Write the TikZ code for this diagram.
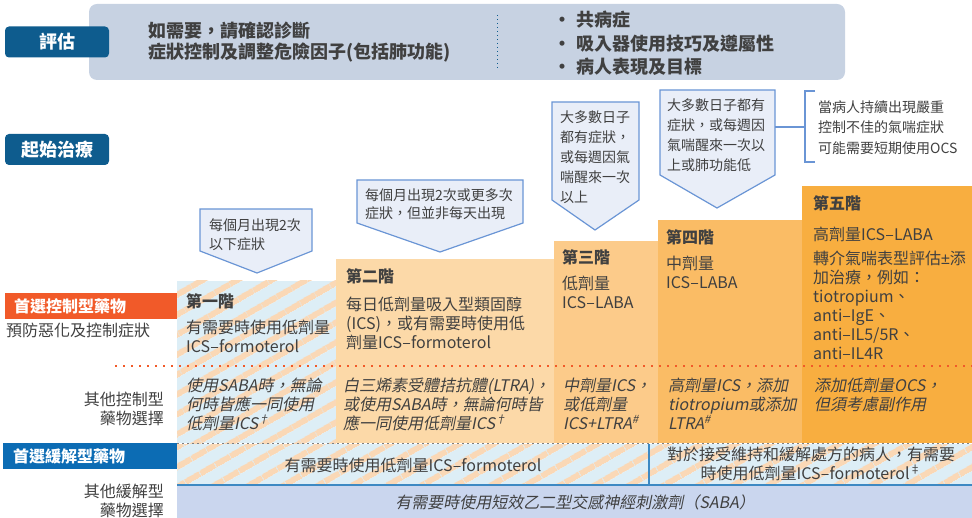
\documentclass[tikz,border=0pt]{standalone}
\usepackage{fontspec}
\setmainfont{Noto Sans CJK TC}[AutoFakeSlant=0.2]
\newfontfamily\latinfont{Liberation Sans}
\usetikzlibrary{patterns.meta}
\definecolor{headblue}{RGB}{14,92,142}
\definecolor{assessgray}{RGB}{199,210,226}
\definecolor{ctrlorange}{RGB}{241,90,41}
\definecolor{relievblue}{RGB}{12,108,180}
\definecolor{stepone}{RGB}{221,238,246}
\definecolor{stripepeach}{RGB}{250,216,182}
\definecolor{steptwo}{RGB}{252,217,168}
\definecolor{stepthree}{RGB}{252,203,138}
\definecolor{stepfour}{RGB}{250,188,101}
\definecolor{stepfive}{RGB}{248,174,64}
\definecolor{sabablue}{RGB}{202,214,238}
\definecolor{calloutfill}{RGB}{233,238,248}
\definecolor{calloutline}{RGB}{106,149,213}
\definecolor{textgray}{RGB}{64,64,64}
\newcommand{\fnmark}[1]{\smash{\textsuperscript{#1}}}

\begin{document}
\begin{tikzpicture}[x=1pt,y=-1pt,
  headbtn/.style={fill=headblue,rounded corners=4pt,text=white,font=\bfseries\fontsize{18}{20}\selectfont,minimum width=104pt,minimum height=31pt,inner sep=0pt},
  tagtext/.style={text=white,font=\bfseries\fontsize{16}{18}\selectfont,anchor=west,inner sep=0pt},
  txt/.style={text=textgray,inner sep=0pt,align=left,anchor=west,font=\fontsize{16}{19}\selectfont},
  steptitle/.style={txt,font=\bfseries\fontsize{16}{19}\selectfont},
  othertxt/.style={txt,font=\itshape\fontsize{16}{19}\selectfont},
  smalltxt/.style={txt,font=\fontsize{14}{20}\selectfont},
  callout/.style={fill=calloutfill,draw=calloutline,line width=1.2pt},
  hatch/.style={pattern={Lines[angle=30,distance=17pt,line width=6pt]},pattern color=stripepeach}]

\useasboundingbox (0,0) rectangle (972,518);

% assessment
\fill[assessgray,rounded corners=8pt] (89,4) rectangle (845,80);
\node[headbtn] (assess) at (57,42) {評估};
\draw[headblue,line width=1pt,dash pattern=on 1.5pt off 2.5pt] (497,15) -- (497,68);
\node[txt,font=\bfseries\fontsize{18}{21}\selectfont] (confirm) at (148,42.5) {如需要，請確認診斷\\症狀控制及調整危險因子(包括肺功能)};
\node[txt,font=\bfseries\fontsize{18}{23.5}\selectfont] (review) at (553,43.5) {•\hspace{5pt}共病症\\•\hspace{5pt}吸入器使用技巧及遵屬性\\•\hspace{5pt}病人表現及目標};

\node[headbtn] (start) at (57,149.5) {起始治療};

% callouts
\draw[callout] (200,209) -- (312,209) -- (312,251) -- (257,273) -- (200,251) -- cycle;
\node[smalltxt,font=\fontsize{14}{19}\selectfont] (symA) at (209,234.5) {每個月出現2次\\以下症狀};
\draw[callout] (357,180) -- (523,180) -- (523,223) -- (440,252) -- (357,223) -- cycle;
\node[smalltxt,font=\fontsize{14}{18.5}\selectfont] (symB) at (365,204) {每個月出現2次或更多次\\症狀，但並非每天出現};
\draw[callout] (552,102) -- (639,102) -- (639,200) -- (595,230) -- (552,200) -- cycle;
\node[smalltxt] (symC) at (560,157) {大多數日子\\都有症狀，\\或每週因氣\\喘醒來一次\\以上};
\draw[callout] (660,90) -- (775,90) -- (775,175) -- (717,208) -- (660,175) -- cycle;
\node[smalltxt] (symD) at (667,135) {大多數日子都有\\症狀，或每週因\\氣喘醒來一次以\\上或肺功能低};
\coordinate (symDside) at (775,127);
\coordinate (brk) at (805,127);
\draw[calloutline,line width=1.2pt] (815,91) -- (805,91) -- (805,162) -- (815,162);
\draw[calloutline,line width=1.2pt] (symDside) -- (brk);
\node[smalltxt,font=\fontsize{14}{20.5}\selectfont] (ocs) at (818,127.5) {當病人持續出現嚴重\\控制不佳的氣喘症狀\\可能需要短期使用OCS};

% steps
\fill[stepone] (177,281) rectangle (336,443);
\fill[hatch] (177,281) rectangle (336,443);
\fill[steptwo] (336,259) rectangle (554,443);
\fill[stepthree] (554,241) rectangle (658,443);
\fill[stepfour] (658,220) rectangle (802,443);
\fill[stepfive] (802,186) rectangle (972,443);

\node[steptitle] (s1) at (186,301) {第一階};
\node[txt] (s1body) at (186,336.5) {有需要時使用低劑量\\ICS–formoterol};
\node[steptitle] (s2) at (346,276) {第二階};
\node[txt] (s2body) at (346,323.5) {每日低劑量吸入型類固醇\\(ICS)，或有需要時使用低\\劑量ICS–formoterol};
\node[steptitle] (s3) at (562,257) {第三階};
\node[txt] (s3body) at (562,292.5) {低劑量\\ICS–LABA};
\node[steptitle] (s4) at (666,237) {第四階};
\node[txt] (s4body) at (666,272.5) {中劑量\\ICS–LABA};
\node[steptitle] (s5) at (813,203) {第五階};
\node[txt] (s5dose) at (813,234) {高劑量ICS–LABA};
\node[txt] (s5body) at (813,305.5) {轉介氣喘表型評估{\latinfont ±}添\\加治療，例如：\\tiotropium、\\anti–IgE、\\anti–IL5/5R、\\anti–IL4R};

\draw[ctrlorange,line width=1.5pt,dash pattern=on 2pt off 6pt] (115,366) -- (972,366);

% other controller options
\node[othertxt] (o1) at (186,404.5) {使用SABA時，無論\\何時皆應一同使用\\低劑量ICS\fnmark{†}};
\node[othertxt] (o2) at (343,404.5) {白三烯素受體拮抗體(LTRA)，\\或使用SABA時，無論何時皆\\應一同使用低劑量ICS\fnmark{†}};
\node[othertxt] (o3) at (563,404) {中劑量ICS，\\或低劑量\\ICS+LTRA\fnmark{\#}};
\node[othertxt] (o4) at (668,404) {高劑量ICS，添加\\tiotropium或添加\\LTRA\fnmark{\#}};
\node[othertxt] (o5) at (814,394.5) {添加低劑量OCS，\\但須考慮副作用};

% reliever rows
\fill[stepone] (177,444) rectangle (972,485);
\fill[hatch] (177,444) rectangle (972,485);
\draw[gray,line width=1.2pt,dash pattern=on 2pt off 3pt] (177,443.5) -- (972,443.5);
\draw[relievblue!80,line width=1.2pt] (649,444) -- (649,485);
\fill[sabablue] (177,485) rectangle (972,518);
\draw[relievblue!80,line width=1.2pt] (177,485) -- (972,485);
\node[txt,anchor=center] (r1) at (413,465) {有需要時使用低劑量ICS–formoterol};
\node[txt,anchor=center,align=center] (r2) at (811,464) {對於接受維持和緩解處方的病人，有需要\\時使用低劑量ICS–formoterol\fnmark{‡}};
\node[othertxt,anchor=center] (saba) at (575,502) {有需要時使用短效乙二型交感神經刺激劑（SABA）};

% row labels
\fill[ctrlorange] (5,293) rectangle (177,319);
\node[tagtext] (ctrltag) at (14,306) {首選控制型藥物};
\node[txt] (ctrlsub) at (6,330) {預防惡化及控制症狀};
\node[txt,anchor=east,align=right] (ctrlother) at (164,408.5) {其他控制型\\藥物選擇};
\fill[relievblue] (3,443) rectangle (177,469);
\node[tagtext] (reltag) at (13,456) {首選緩解型藥物};
\node[txt,anchor=east,align=right] (relother) at (164,501) {其他緩解型\\藥物選擇};

\end{tikzpicture}
\end{document}
